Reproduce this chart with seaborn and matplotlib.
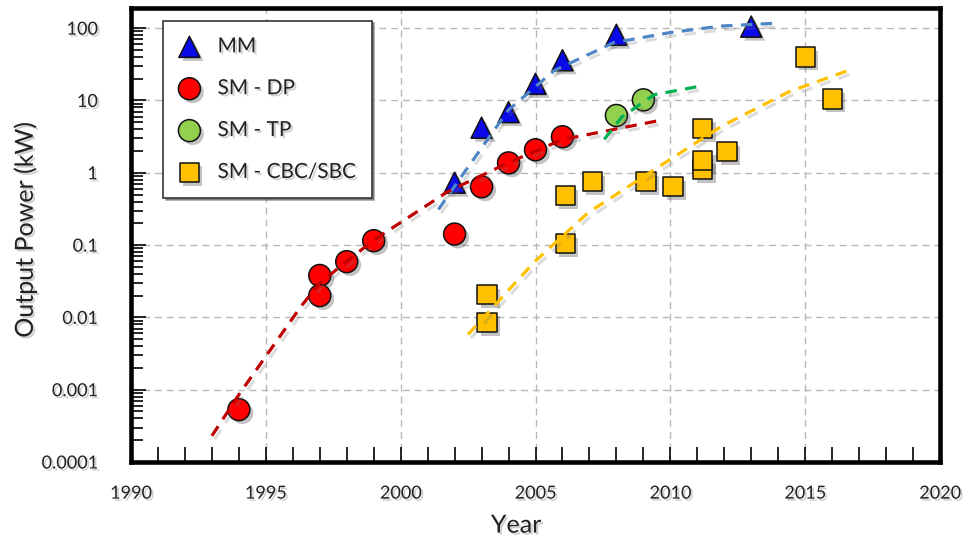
import matplotlib
matplotlib.use("Agg")
import numpy as np
import pandas as pd
import seaborn as sns
import matplotlib.pyplot as plt
import matplotlib.patheffects as pe
from matplotlib.ticker import FixedLocator, FixedFormatter, LogLocator, MultipleLocator, NullFormatter

# ---------------- data ----------------
mm_year = [2002, 2003, 2004, 2005, 2006, 2008, 2013]
mm_kw = [0.73, 4.2, 6.9, 17, 36, 81, 105]

dp_year = [1994, 1997, 1997, 1998, 1999, 2002, 2003, 2004, 2005, 2006]
dp_kw = [0.00053, 0.038, 0.020, 0.059, 0.115, 0.142, 0.64, 1.37, 2.08, 3.15]

tp_year = [2008, 2009]
tp_kw = [6.2, 10.2]

cbc_year = [2003.2, 2003.2, 2006.1, 2006.1, 2007.1, 2009.1, 2010.1, 2011.2, 2011.2, 2011.2, 2012.1, 2015, 2016]
cbc_kw = [0.0205, 0.0085, 0.104, 0.48, 0.75, 0.75, 0.64, 1.1, 1.47, 4.1, 1.95, 40, 10.5]

# trend lines
mm_fit_year = [2001.4, 2002.35, 2004.0, 2005.7, 2007.9, 2010.0, 2011.9, 2013.9]
mm_fit_kw = [0.31, 1.0, 7.4, 26, 63, 87, 107, 117]

dp_fit_year = [1993.0, 1994.05, 1996.3, 1997.0, 1999.0, 2001.75, 2004.0, 2006.0, 2009.5]
dp_fit_kw = [0.00023, 0.00091, 0.0141, 0.030, 0.117, 0.55, 1.38, 2.88, 5.2]

tp_fit_year = [2007.55, 2008.2, 2009.4, 2011.0]
tp_fit_kw = [2.9, 5.9, 12, 15.5]

cbc_fit_year = [2002.5, 2004.95, 2006.95, 2009.4, 2011.9, 2014.4, 2016.6]
cbc_fit_kw = [0.0058, 0.058, 0.28, 1.1, 4.4, 13.2, 26]

x_ticks = [1990, 1995, 2000, 2005, 2010, 2015, 2020]
y_ticks = [0.0001, 0.001, 0.01, 0.1, 1, 10, 100]
y_tick_labels = ["0.0001", "0.001", "0.01", "0.1", "1", "10", "100"]

# ---------------- style ----------------
sns.set_style("white")
plt.rcParams["font.family"] = ["Lato", "DejaVu Sans"]
TXT = "#222222"

fig = plt.figure(figsize=(9.68, 5.42), dpi=100)
ax = fig.add_axes([131 / 968, 80 / 542, 809 / 968, 454 / 542])
ax.set_yscale("log")

shadow = [pe.SimplePatchShadow(offset=(2.5, -2.5), shadow_rgbFace="#555555", alpha=0.35), pe.Normal()]
txt_shadow = [pe.SimplePatchShadow(offset=(1.5, -1.5), shadow_rgbFace="#777777", alpha=0.35), pe.Normal()]
line_shadow = [pe.SimpleLineShadow(offset=(2, -2.5), shadow_color="#777777", alpha=0.25), pe.Normal()]

# scatter series
specs = [
    (mm_year, mm_kw, "^", "#0a0ae8", 230, "MM"),
    (dp_year, dp_kw, "o", "#ff0000", 250, "SM - DP"),
    (tp_year, tp_kw, "o", "#92d050", 250, "SM - TP"),
    (cbc_year, cbc_kw, "s", "#ffc000", 190, "SM - CBC/SBC"),
]
handles = []
for xs, ys, mk, col, s, lab in specs:
    n0 = len(ax.collections)
    sns.scatterplot(x=xs, y=ys, marker=mk, s=s, color=col, edgecolor="#111111",
                    linewidth=1.1, ax=ax, zorder=3, label=lab, legend=False)
    coll = ax.collections[n0]
    coll.set_path_effects(shadow)
    handles.append(coll)

# trend lines
fits = [
    (mm_fit_year, mm_fit_kw, "#4f86c6"),
    (dp_fit_year, dp_fit_kw, "#c00000"),
    (tp_fit_year, tp_fit_kw, "#00b050"),
    (cbc_fit_year, cbc_fit_kw, "#ffc000"),
]
for xs, ys, col in fits:
    n0 = len(ax.lines)
    sns.lineplot(x=xs, y=ys, color=col, lw=2.3, sort=False, estimator=None, ax=ax, zorder=4)
    ln = ax.lines[n0]
    ln.set_dashes((3.6, 2.6))
    ln.set_path_effects(line_shadow)

# axes limits & ticks
ax.set_xlim(1990, 2020)
ax.set_ylim(1e-4, 190)
ax.xaxis.set_major_locator(FixedLocator(x_ticks))
ax.xaxis.set_minor_locator(MultipleLocator(1))
ax.yaxis.set_major_locator(FixedLocator(y_ticks))
ax.yaxis.set_major_formatter(FixedFormatter(y_tick_labels))
ax.yaxis.set_minor_locator(LogLocator(base=10, subs=np.arange(2, 10)))
ax.yaxis.set_minor_formatter(NullFormatter())

ax.tick_params(axis="x", which="both", direction="in", length=11, width=1.2, color="black",
               labelsize=13, labelcolor=TXT, pad=17, bottom=True, top=False)
ax.tick_params(axis="y", which="major", direction="in", length=11, width=1.2, color="black",
               labelsize=13, labelcolor=TXT, pad=24, left=True, right=False)
ax.tick_params(axis="y", which="minor", direction="in", length=8.5, width=1.2, color="black",
               left=True, right=False)

ax.grid(True, which="major", color="#b8b8b8", linestyle=(0, (5, 3.5)), linewidth=1.0)
ax.set_axisbelow(True)

for sp in ax.spines.values():
    sp.set_visible(True)
    sp.set_color("black")
    sp.set_linewidth(3.3)

for lab in ax.get_xticklabels() + ax.get_yticklabels():
    lab.set_path_effects(txt_shadow)

ax.set_xlabel("Year", fontsize=18, color=TXT)
ax.set_ylabel("Output Power (kW)", fontsize=18, color=TXT)
ax.xaxis.set_label_coords(0.476, -0.139)
ax.xaxis.label.set_va("center")
ax.yaxis.set_label_coords(-0.131, 0.511)
ax.yaxis.label.set_va("center")
ax.xaxis.label.set_path_effects(txt_shadow)
ax.yaxis.label.set_path_effects(txt_shadow)

leg = ax.legend(handles, [s[5] for s in specs], loc="upper left", bbox_to_anchor=(0.04, 0.972),
                frameon=True, fancybox=False, shadow=True, edgecolor="#333333", framealpha=1,
                fontsize=15, labelspacing=1.05, handletextpad=0.85, borderpad=0.75,
                handlelength=1.0, borderaxespad=0)
leg.get_frame().set_linewidth(1.2)
for t in leg.get_texts():
    t.set_color(TXT)
    t.set_path_effects(txt_shadow)
leg.set_zorder(10)

fig.savefig("out.png", dpi=100)
